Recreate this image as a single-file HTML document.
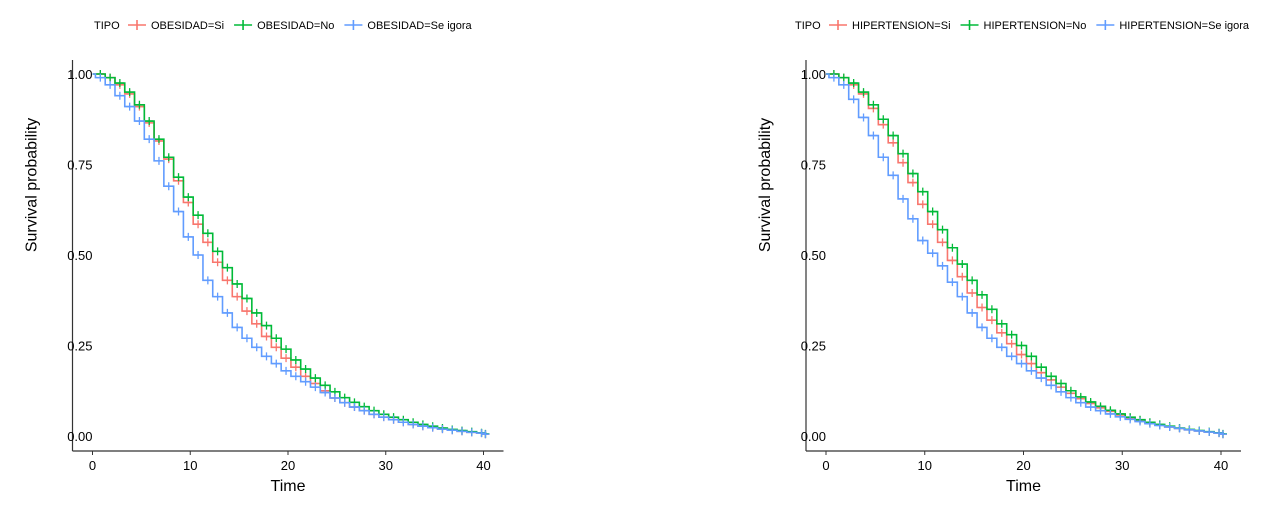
<!DOCTYPE html>
<html><head><meta charset="utf-8"><style>
body{margin:0;background:#fff;width:1266px;height:510px;overflow:hidden}
svg{font-family:"Liberation Sans",Arial,sans-serif}
</style></head><body>
<svg id="s" width="1266" height="510"></svg>
<script>
const times=[0,1,2,3,4,5,6,7,8,9,10,11,12,13,14,15,16,17,18,19,20,21,22,23,24,25,26,27,28,29,30,31,32,33,34,35,36,37,38,39,40];
const obeSi=[1,.99,.97,.945,.91,.865,.815,.765,.705,.645,.585,.535,.48,.43,.385,.345,.31,.275,.245,.215,.19,.165,.145,.125,.105,.092,.08,.07,.06,.052,.045,.038,.032,.027,.023,.019,.016,.013,.01,.008,.005];
const obeNo=[1,.99,.975,.95,.915,.87,.82,.77,.715,.66,.61,.56,.51,.465,.42,.38,.34,.305,.27,.24,.21,.185,.16,.14,.122,.106,.093,.081,.07,.06,.052,.045,.038,.032,.027,.022,.018,.015,.012,.009,.006];
const obeIg=[.99,.97,.94,.91,.87,.82,.76,.69,.62,.55,.5,.43,.385,.34,.3,.27,.245,.22,.2,.18,.165,.15,.135,.12,.105,.092,.08,.07,.06,.052,.045,.038,.032,.027,.023,.019,.016,.013,.01,.008,.005];
const hipSi=[1,.99,.97,.945,.905,.86,.81,.755,.7,.64,.585,.535,.485,.44,.395,.355,.32,.285,.255,.225,.2,.175,.155,.135,.118,.103,.09,.078,.068,.058,.05,.043,.036,.03,.025,.021,.017,.014,.011,.008,.005];
const hipNo=[1,.99,.975,.95,.915,.875,.83,.78,.725,.675,.62,.57,.52,.475,.43,.39,.35,.31,.28,.25,.22,.19,.165,.145,.125,.108,.094,.082,.071,.061,.052,.045,.038,.032,.027,.022,.018,.015,.012,.009,.006];
const hipIg=[.99,.97,.93,.88,.83,.77,.72,.655,.6,.54,.505,.47,.425,.385,.34,.3,.27,.245,.22,.2,.18,.16,.14,.122,.106,.092,.08,.07,.061,.053,.046,.04,.034,.029,.025,.021,.017,.014,.011,.008,.005];
const xTicks=[0,10,20,30,40];
const yTicks=[0,0.25,0.5,0.75,1];
const yLabels=["0.00","0.25","0.50","0.75","1.00"];
const colors=["#F8766D","#00BA38","#619CFF"];
const NS="http://www.w3.org/2000/svg";
const svg=document.getElementById('s');
function mk(t,a,p){const e=document.createElementNS(NS,t);for(const k in a)e.setAttribute(k,a[k]);(p||svg).appendChild(e);return e;}
function panel(ox,x0,x40,labels,series,nm){
  const g=mk('g',{});
  
  
  const X=t=>x0+t*(x40-x0)/40, Y=v=>436-v*362;
  let lx=ox+24;
  const tl=mk('text',{x:lx,y:29,'font-size':11},g);tl.textContent='TIPO';
  
  lx+=34;
  labels.forEach((l,i)=>{
    const le=mk('g',{},g);
    
    
    mk('line',{x1:lx,y1:25,x2:lx+18,y2:25,stroke:colors[i],'stroke-width':1.6},le);
    mk('line',{x1:lx+9,y1:20,x2:lx+9,y2:30,stroke:colors[i],'stroke-width':1.6},le);
    const t=mk('text',{x:lx+23,y:29,'font-size':11},le);t.textContent=l;
    lx+=23+t.getComputedTextLength()+10;
  });
  const ax=x0-20;
  const axl=mk('line',{x1:ax,y1:60,x2:ax,y2:451,stroke:'#333','stroke-width':1.2},g);
  
  const axb=mk('line',{x1:ax,y1:451,x2:x40+20,y2:451,stroke:'#333','stroke-width':1.2},g);
  
  yTicks.forEach((v,i)=>{
    const t=mk('text',{x:ax+20,y:Y(v)+5,'font-size':13,'text-anchor':'end'},g);t.textContent=yLabels[i];
    
  });
  xTicks.forEach(v=>{
    mk('line',{x1:X(v),y1:451,x2:X(v),y2:455,stroke:'#333'},g);
    const t=mk('text',{x:X(v),y:470,'font-size':13,'text-anchor':'middle'},g);t.textContent=v;
    
  });
  const xt=mk('text',{x:(x0+x40)/2,y:491,'font-size':16,'text-anchor':'middle'},g);xt.textContent='Time';
  
  const yt=mk('text',{x:0,y:0,'font-size':16,'text-anchor':'middle',transform:`translate(${ax-36},185) rotate(-90)`},g);yt.textContent='Survival probability';
  
  series.forEach((s,i)=>{
    let d=`M${X(0)},${Y(1)}`;
    let marks='';
    times.forEach((t,k)=>{
      const tx=Math.min(t+0.3,40.2);
      d+=` H${X(tx)} V${Y(s[k])}`;
      const mx=X(Math.min(t+0.8,40.2)),my=Y(s[k]);
      marks+=`M${mx-4},${my}H${mx+4}M${mx},${my-4}V${my+4}`;
    });
    d+=` H${X(40.4)}`;
    const p=mk('path',{d:d,fill:'none',stroke:colors[i],'stroke-width':1.6},g);
    
    
    const m=mk('path',{d:marks,fill:'none',stroke:colors[i],'stroke-width':1.3},g);
    
    
  });
}
panel(70,92.5,483.5,["OBESIDAD=Si","OBESIDAD=No","OBESIDAD=Se igora"],[obeSi,obeNo,obeIg],'obesidad-chart');
panel(771,826,1221,["HIPERTENSION=Si","HIPERTENSION=No","HIPERTENSION=Se igora"],[hipSi,hipNo,hipIg],'hipertension-chart');
</script>
</body></html>
